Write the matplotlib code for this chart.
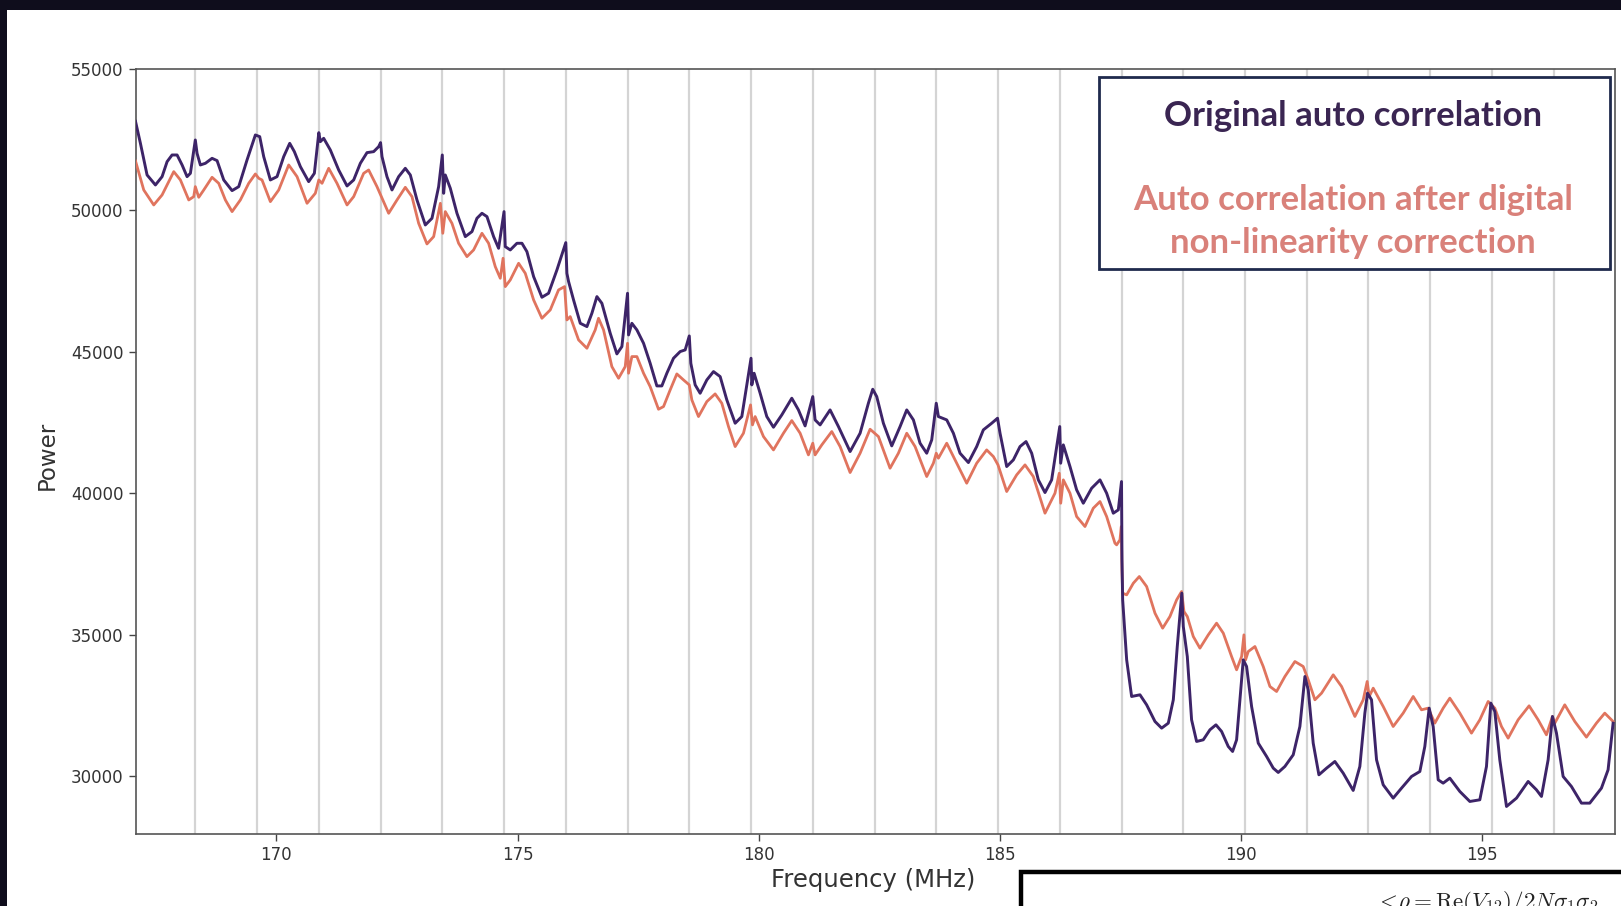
import matplotlib
matplotlib.use("Agg")
import matplotlib.pyplot as plt
from matplotlib.patches import Rectangle

plt.rcParams['mathtext.fontset'] = 'cm'

# ---------------- data ----------------
freq_orig = [
    167.08, 167.182, 167.320, 167.493, 167.631, 167.735, 167.838, 167.942, 168.046, 168.149,
    168.218, 168.32, 168.356, 168.425, 168.529, 168.667, 168.771, 168.909, 169.082, 169.220,
    169.392, 169.565, 169.655, 169.738, 169.876, 170.014, 170.152, 170.277, 170.373, 170.498,
    170.670, 170.788, 170.88, 170.912, 170.981, 171.119, 171.292, 171.465, 171.603, 171.741,
    171.879, 172.017, 172.121, 172.16, 172.190, 172.293, 172.397, 172.535, 172.673, 172.777,
    172.915, 173.088, 173.226, 173.364, 173.44, 173.468, 173.502, 173.606, 173.744, 173.917,
    174.055, 174.158, 174.262, 174.366, 174.504, 174.607, 174.72, 174.745, 174.849, 174.987,
    175.091, 175.194, 175.333, 175.505, 175.643, 175.816, 176.0, 176.023, 176.058, 176.161,
    176.300, 176.438, 176.541, 176.645, 176.748, 176.921, 177.059, 177.163, 177.28, 177.301,
    177.370, 177.474, 177.612, 177.749, 177.888, 177.991, 178.095, 178.233, 178.371, 178.475,
    178.56, 178.592, 178.682, 178.785, 178.924, 179.062, 179.200, 179.338, 179.511, 179.649,
    179.84, 179.856, 179.904, 180.029, 180.167, 180.305, 180.478, 180.685, 180.823, 180.961,
    181.12, 181.168, 181.272, 181.479, 181.652, 181.894, 182.101, 182.273, 182.363, 182.446,
    182.584, 182.757, 182.930, 183.068, 183.206, 183.344, 183.482, 183.586, 183.68, 183.724,
    183.897, 184.035, 184.173, 184.346, 184.518, 184.656, 184.829, 184.95, 185.002, 185.140,
    185.278, 185.416, 185.541, 185.658, 185.796, 185.934, 186.072, 186.24, 186.259, 186.314,
    186.452, 186.590, 186.728, 186.901, 187.074, 187.212, 187.350, 187.454, 187.52, 187.530,
    187.544, 187.627, 187.730, 187.903, 188.041, 188.214, 188.352, 188.490, 188.594, 188.676,
    188.77, 188.801, 188.884, 188.973, 189.077, 189.215, 189.353, 189.478, 189.595, 189.733,
    189.823, 189.906, 189.975, 190.044, 190.113, 190.217, 190.355, 190.528, 190.666, 190.769,
    190.907, 191.080, 191.218, 191.322, 191.391, 191.494, 191.612, 191.771, 191.943, 192.116,
    192.323, 192.461, 192.565, 192.620, 192.703, 192.807, 192.945, 193.152, 193.325, 193.532,
    193.705, 193.808, 193.898, 193.981, 194.085, 194.188, 194.326, 194.534, 194.741, 194.948,
    195.086, 195.176, 195.259, 195.362, 195.501, 195.708, 195.950, 196.122, 196.226, 196.364,
    196.454, 196.537, 196.675, 196.847, 197.055, 197.227, 197.469, 197.607, 197.711,
]
power_orig = [
    53150, 52373, 51254, 50901, 51195, 51725, 51961, 51961, 51608, 51195,
    51313, 52491, 52020, 51608, 51667, 51843, 51761, 51078, 50701, 50842,
    51784, 52668, 52609, 51902, 51078, 51195, 51902, 52373, 52079, 51549,
    51019, 51313, 52750, 52432, 52550, 52138, 51431, 50866, 51078, 51667,
    52044, 52079, 52256, 52397, 51902, 51195, 50724, 51195, 51490, 51254,
    50371, 49487, 49723, 50842, 51961, 50607, 51254, 50783, 49900, 49075,
    49252, 49723, 49900, 49782, 49075, 48663, 49959, 48722, 48604, 48840,
    48840, 48545, 47662, 46932, 47073, 47897, 48863, 47779, 47485, 46837,
    46012, 45895, 46366, 46955, 46719, 45659, 44929, 45188, 47073, 45600,
    46012, 45777, 45306, 44599, 43798, 43798, 44246, 44776, 45012, 45071,
    45565, 44599, 43834, 43539, 44010, 44305, 44128, 43304, 42479, 42715,
    44776, 43834, 44246, 43539, 42715, 42338, 42774, 43363, 42950, 42385,
    43421, 42597, 42420, 42950, 42362, 41478, 42126, 43186, 43681, 43421,
    42479, 41678, 42362, 42950, 42597, 41773, 41419, 41890, 43186, 42715,
    42597, 42126, 41419, 41089, 41654, 42244, 42479, 42656, 42126, 40948,
    41183, 41654, 41831, 41419, 40477, 40029, 40477, 42362, 41066, 41714,
    40948, 40124, 39652, 40182, 40477, 40006, 39299, 39417, 40418, 37650,
    36237, 34116, 32821, 32880, 32526, 31937, 31702, 31878, 32703, 34587,
    36472, 35294, 34234, 31996, 31231, 31289, 31643, 31819, 31584, 31054,
    30877, 31289, 32703, 34116, 33881, 32467, 31172, 30700, 30288, 30135,
    30347, 30759, 31760, 33527, 33056, 31172, 30052, 30288, 30523, 30111,
    29499, 30347, 32232, 32938, 32703, 30582, 29699, 29228, 29581, 29993,
    30170, 31054, 32408, 31760, 29875, 29758, 29934, 29463, 29110, 29169,
    30347, 32585, 32290, 30582, 28933, 29228, 29817, 29522, 29287, 30582,
    32114, 31525, 29993, 29640, 29051, 29051, 29581, 30229, 31878,
]

freq_corr = [
    167.08, 167.251, 167.458, 167.631, 167.873, 168.011, 168.184, 168.287, 168.32, 168.391,
    168.495, 168.667, 168.805, 168.943, 169.082, 169.254, 169.427, 169.565, 169.634, 169.703,
    169.876, 170.049, 170.256, 170.429, 170.636, 170.808, 170.88, 170.947, 171.085, 171.257,
    171.465, 171.603, 171.810, 171.913, 172.086, 172.328, 172.501, 172.673, 172.811, 172.950,
    173.122, 173.261, 173.40, 173.45, 173.502, 173.640, 173.778, 173.951, 174.089, 174.262,
    174.400, 174.538, 174.642, 174.70, 174.745, 174.849, 175.022, 175.160, 175.333, 175.505,
    175.678, 175.850, 175.975, 176.023, 176.092, 176.265, 176.438, 176.610, 176.679, 176.783,
    176.955, 177.094, 177.232, 177.28, 177.301, 177.370, 177.474, 177.612, 177.749, 177.922,
    178.026, 178.164, 178.302, 178.440, 178.56, 178.613, 178.751, 178.924, 179.096, 179.234,
    179.373, 179.511, 179.683, 179.83, 179.87, 179.925, 180.098, 180.305, 180.512, 180.685,
    180.858, 181.030, 181.12, 181.168, 181.307, 181.514, 181.687, 181.894, 182.101, 182.308,
    182.481, 182.722, 182.895, 183.068, 183.241, 183.482, 183.620, 183.68, 183.724, 183.897,
    184.069, 184.311, 184.518, 184.725, 184.864, 184.96, 185.140, 185.347, 185.520, 185.692,
    185.934, 186.141, 186.23, 186.26, 186.314, 186.452, 186.590, 186.763, 186.935, 187.074,
    187.212, 187.384, 187.419, 187.488, 187.516, 187.530, 187.544, 187.627, 187.765, 187.889,
    188.041, 188.214, 188.373, 188.524, 188.663, 188.766, 188.815, 188.884, 189.008, 189.146,
    189.319, 189.491, 189.630, 189.802, 189.906, 190.010, 190.058, 190.092, 190.148, 190.286,
    190.458, 190.597, 190.735, 190.907, 191.115, 191.287, 191.391, 191.529, 191.667, 191.909,
    192.082, 192.358, 192.531, 192.613, 192.655, 192.738, 192.945, 193.152, 193.359, 193.567,
    193.739, 193.877, 194.015, 194.188, 194.326, 194.534, 194.775, 194.948, 195.121, 195.259,
    195.397, 195.535, 195.742, 195.970, 196.157, 196.329, 196.454, 196.502, 196.709, 196.917,
    197.158, 197.365, 197.538, 197.711,
]
power_corr = [
    51750, 50724, 50194, 50548, 51372, 51078, 50371, 50489, 50842, 50465,
    50724, 51172, 50960, 50371, 49959, 50371, 50960, 51290, 51137, 51078,
    50312, 50724, 51608, 51195, 50253, 50607, 51078, 50960, 51490, 50960,
    50194, 50489, 51313, 51431, 50842, 49900, 50371, 50818, 50489, 49546,
    48816, 49075, 50253, 49193, 49959, 49546, 48840, 48368, 48604, 49193,
    48840, 48015, 47603, 48310, 47308, 47544, 48133, 47779, 46837, 46189,
    46484, 47191, 47308, 46130, 46248, 45424, 45129, 45777, 46189, 45777,
    44481, 44069, 44481, 45306, 44246, 44835, 44835, 44246, 43775, 42974,
    43068, 43657, 44222, 44010, 43834, 43304, 42715, 43245, 43516, 43186,
    42362, 41654, 42126, 43127, 42420, 42715, 42008, 41536, 42126, 42573,
    42126, 41360, 41773, 41360, 41714, 42185, 41654, 40736, 41419, 42267,
    42008, 40889, 41419, 42126, 41654, 40595, 41066, 41419, 41243, 41773,
    41183, 40359, 41066, 41536, 41301, 41007, 40065, 40654, 41007, 40595,
    39299, 40006, 40712, 39652, 40477, 40006, 39181, 38828, 39476, 39711,
    39181, 38239, 38180, 38357, 38828, 37297, 36472, 36413, 36825, 37061,
    36708, 35765, 35235, 35647, 36237, 36531, 35824, 35647, 34941, 34529,
    34999, 35412, 35059, 34234, 33763, 34234, 34999, 34116, 34411, 34587,
    33881, 33174, 32997, 33527, 34057, 33881, 33410, 32703, 32938, 33586,
    33174, 32114, 32703, 33351, 32821, 33115, 32467, 31760, 32232, 32821,
    32349, 32408, 31878, 32408, 32762, 32232, 31525, 31996, 32644, 32408,
    31760, 31348, 31996, 32491, 31996, 31466, 32114, 31878, 32526, 31937,
    31384, 31878, 32232, 31937,
]

channel_edges = [168.32, 169.60, 170.88, 172.16, 173.44, 174.72, 176.00, 177.28,
                 178.56, 179.84, 181.12, 182.40, 183.68, 184.96, 186.24, 187.52,
                 188.80, 190.08, 191.36, 192.64, 193.92, 195.20, 196.48]

x_ticks = [170, 175, 180, 185, 190, 195]
y_ticks = [30000, 35000, 40000, 45000, 50000, 55000]

title_orig = "Original auto correlation"
title_corr_lines = ["Auto correlation after digital", "non-linearity correction"]
formula = r"$<\!\rho = \mathrm{Re}(V_{12})/2N\sigma_1\sigma_2$"

# ---------------- figure ----------------
W, H = 1621, 906
fig = plt.figure(figsize=(W / 100, H / 100), dpi=100)
fig.patch.set_facecolor("white")

ax = fig.add_axes([135.5 / W, 1 - 834 / H, (1614.5 - 135.5) / W, (834 - 69) / H])

for xv in channel_edges:
    ax.axvline(xv, color="#d4d4d4", lw=1.6, zorder=1)

ax.plot(freq_corr, power_corr, color="#e0745e", lw=2.0, zorder=3)
ax.plot(freq_orig, power_orig, color="#3d2468", lw=2.1, zorder=4)

ax.set_xlim(167.08, 197.74)
ax.set_ylim(27960, 55000)
ax.set_xticks(x_ticks)
ax.set_yticks(y_ticks)
ax.tick_params(direction="out", length=5, width=1, color="#444444",
               labelsize=12, labelcolor="#333333")
for s in ax.spines.values():
    s.set_color("#555555")
    s.set_linewidth(1.2)

ax.set_xlabel("Frequency (MHz)", fontsize=17.5, color="#333333")
ax.set_ylabel("Power", fontsize=16.5, color="#333333")
ax.xaxis.set_label_coords(0.499, -0.044)
ax.yaxis.set_label_coords(-0.052, 0.495)

# legend-like text box
fig.add_artist(Rectangle((1099 / W, 1 - 268.8 / H), (1609.6 - 1099) / W, (268.8 - 76.5) / H,
                         transform=fig.transFigure, facecolor="white",
                         edgecolor="#1f2a4d", lw=2, zorder=10))
fig.text(1353 / W, 1 - 115.7 / H, title_orig, ha="center", va="center",
         fontsize=25, fontweight="bold", family="Lato", color="#3a2552", zorder=11)
for line, ypix in zip(title_corr_lines, [199.5, 242.9]):
    fig.text(1353 / W, 1 - ypix / H, line, ha="center", va="center",
             fontsize=25, fontweight="bold", family="Lato", color="#d9817a", zorder=11)

# lower-right formula panel (cut off at the bottom of the slide)
fig.add_artist(Rectangle((1021 / W, -0.1), 1.0, 0.1 + 1 - 872 / H,
                         transform=fig.transFigure, facecolor="white",
                         edgecolor="black", lw=3.2, zorder=10))
fig.text(1375 / W, 1 - 889 / H, formula, ha="left", va="top", fontsize=16.6,
         color="#222222", zorder=11)

# dark slide frame
fig.add_artist(Rectangle((0, 1 - 10 / H), 1, 10 / H, transform=fig.transFigure,
                         facecolor="#0f0d1c", edgecolor="none", zorder=20))
fig.add_artist(Rectangle((0, 0), 7 / W, 1, transform=fig.transFigure,
                         facecolor="#0f0d1c", edgecolor="none", zorder=20))

fig.savefig("out.png", dpi=100)
